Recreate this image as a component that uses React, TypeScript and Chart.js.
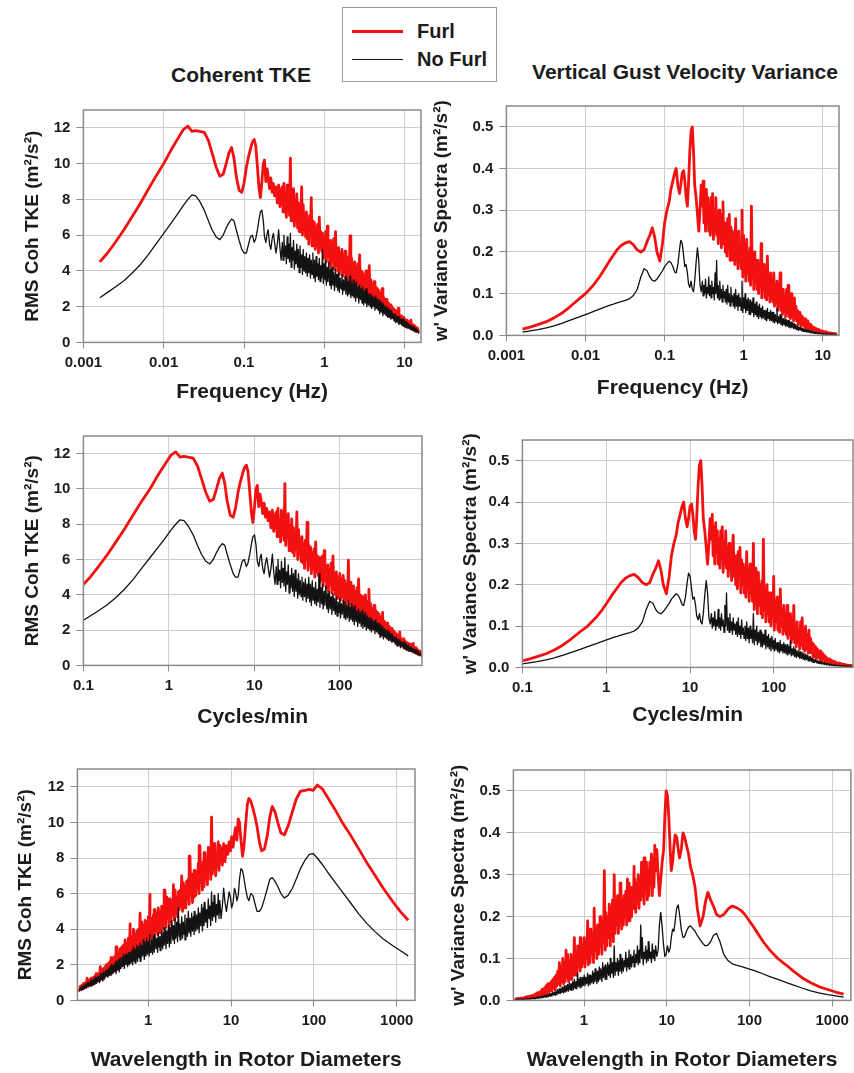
import React, { useEffect, useRef } from "react";
import { Chart, registerables } from "chart.js";

Chart.register(...registerables);

// ---------- DATA ----------
// Frequency grid of the spectra (Hz)
const FREQ_HZ = [
  0.0016, 0.002, 0.0025, 0.0032, 0.004, 0.005, 0.0063, 0.008, 0.01, 0.0125,
  0.015, 0.0175, 0.02, 0.0225, 0.025, 0.028, 0.032, 0.036, 0.04, 0.045,
  0.05, 0.055, 0.06, 0.065, 0.07, 0.075, 0.08, 0.087, 0.094, 0.1,
  0.107, 0.114, 0.12, 0.127, 0.134, 0.14, 0.147, 0.154, 0.16, 0.167,
  0.174, 0.18, 0.187, 0.194, 0.2, 0.208, 0.216, 0.224, 0.232, 0.24,
  0.25, 0.26, 0.27, 0.28, 0.29,
  0.3, 0.307, 0.314, 0.321, 0.329, 0.337, 0.345, 0.353, 0.361, 0.369,
  0.378, 0.387, 0.395, 0.404, 0.414, 0.424, 0.434, 0.444, 0.454, 0.465,
  0.476, 0.487, 0.498, 0.51, 0.522, 0.534, 0.546, 0.559, 0.572, 0.585,
  0.599, 0.613, 0.627, 0.642, 0.657, 0.672, 0.688, 0.704, 0.72, 0.737,
  0.754, 0.772, 0.79, 0.808, 0.827, 0.846, 0.866, 0.886, 0.907, 0.928,
  0.95, 0.972, 0.995, 1.02, 1.04, 1.06, 1.09, 1.11, 1.14, 1.17,
  1.2, 1.22, 1.25, 1.28, 1.31, 1.34, 1.38, 1.41, 1.44, 1.47,
  1.51, 1.54, 1.58, 1.62, 1.66, 1.69, 1.73, 1.77, 1.82, 1.86,
  1.9, 1.95, 1.99, 2.04, 2.09, 2.14, 2.19, 2.24, 2.29, 2.34,
  2.4, 2.45, 2.51, 2.57, 2.63, 2.69, 2.75, 2.82, 2.88, 2.95,
  3.02, 3.09, 3.16, 3.24, 3.31, 3.39, 3.47, 3.55, 3.63, 3.72,
  3.8, 3.89, 3.98, 4.07, 4.17, 4.27, 4.37, 4.47, 4.57, 4.68,
  4.79, 4.9, 5.01, 5.13, 5.25, 5.37, 5.5, 5.62, 5.75, 5.89,
  6.03, 6.17, 6.31, 6.46, 6.61, 6.76, 6.92, 7.08, 7.24, 7.41,
  7.59, 7.76, 7.94, 8.13, 8.32, 8.51, 8.71, 8.91, 9.12, 9.33,
  9.55, 9.77, 10.0, 10.2, 10.5, 10.7, 11.0, 11.2, 11.5, 11.7,
  12.0, 12.3, 12.6, 12.9, 13.2, 13.5, 13.8, 14.1, 14.5, 14.8,
  15.2,
];

// RMS coherent TKE (m²/s²), Furl
const TKE_FURL = [
  4.5, 5.0, 5.6, 6.3, 7.0, 7.7, 8.5, 9.3, 10.0, 10.8,
  11.4, 11.9, 12.1, 11.8, 11.85, 11.8, 11.75, 11.3, 10.6, 9.8,
  9.3, 9.4, 10.0, 10.6, 10.9, 10.3, 9.3, 8.5, 8.4, 8.9,
  9.8, 10.4, 10.8, 11.2, 11.35, 11.0, 9.8, 8.6, 8.1, 9.0,
  10.0, 10.2, 9.0, 9.7, 9.3, 8.6, 9.2, 8.4, 8.9, 8.2,
  8.7, 7.8, 8.8, 7.6, 8.5,
  8.7, 7.3, 8.9, 7.6, 8.2, 7.0, 8.8, 7.4, 8.5, 7.1,
  10.3, 6.8, 8.4, 7.3, 8.6, 6.5, 7.9, 6.9, 8.3, 6.4,
  7.8, 6.2, 7.5, 6.6, 8.7, 6.0, 7.7, 6.3, 7.2, 5.9,
  7.3, 5.8, 6.9, 5.5, 7.1, 6.0, 8.1, 5.4, 6.8, 5.7,
  6.7, 5.2, 6.4, 5.5, 6.6, 5.0, 7.0, 5.3, 6.2, 5.1,
  6.1, 4.7, 5.8, 4.9, 6.2, 4.5, 6.5, 4.8, 5.6, 4.4,
  5.7, 4.2, 5.4, 4.6, 5.8, 4.1, 6.2, 4.3, 5.2, 4.0,
  5.3, 3.8, 5.0, 4.1, 5.2, 3.7, 4.9, 3.9, 5.1, 3.6,
  4.8, 3.4, 4.6, 3.7, 5.96, 3.3, 4.7, 3.5, 4.4, 3.2,
  4.5, 3.0, 4.2, 3.3, 4.4, 2.9, 4.9, 3.1, 4.0, 2.8,
  3.9, 2.6, 3.7, 2.9, 4.0, 2.5, 3.6, 2.7, 4.3, 2.4,
  3.5, 2.2, 3.2, 2.5, 3.4, 2.1, 3.1, 2.3, 3.0, 2.0,
  2.9, 1.8, 2.7, 2.0, 3.0, 1.7, 2.5, 1.9, 2.4, 1.6,
  2.4, 1.5, 2.2, 1.6, 2.1, 1.4, 2.0, 1.5, 1.9, 1.3,
  1.8, 1.2, 1.7, 1.3, 1.9, 1.1, 1.5, 1.2, 1.5, 1.0,
  1.4, 0.95, 1.3, 0.9, 1.25, 0.85, 1.2, 0.9, 1.1, 0.8,
  1.25, 0.75, 1.0, 0.7, 0.95, 0.65, 0.85, 0.6, 0.8, 0.6,
  0.55,
];

// RMS coherent TKE (m²/s²), No Furl
const TKE_NO_FURL = [
  2.5, 2.8, 3.1, 3.45, 3.85, 4.3, 4.85, 5.5, 6.1, 6.7,
  7.2, 7.65, 8.0, 8.25, 8.2, 7.9, 7.4, 6.8, 6.3, 5.9,
  5.75, 6.0, 6.4, 6.7, 6.9, 6.8, 6.3, 5.7, 5.2, 5.0,
  5.0, 5.5, 5.9, 6.0, 5.6, 5.8, 6.3, 6.9, 7.3, 7.4,
  6.8, 5.9, 5.6, 6.1, 6.3, 5.5, 5.2, 5.8, 6.1, 5.6,
  5.0, 5.5, 6.3, 5.3, 4.6,
  5.6, 4.6, 6.0, 4.8, 5.4, 4.4, 5.9, 4.7, 5.5, 4.5,
  6.1, 4.2, 5.3, 4.6, 5.7, 4.1, 5.1, 4.4, 5.5, 4.2,
  5.2, 3.9, 5.4, 4.2, 4.9, 3.8, 5.2, 4.0, 4.8, 3.9,
  5.0, 3.7, 4.7, 3.9, 4.9, 3.6, 4.6, 3.8, 5.0, 3.6,
  4.6, 3.4, 4.8, 3.7, 4.4, 3.5, 4.7, 3.4, 4.3, 3.6,
  5.2, 3.3, 4.4, 3.5, 4.6, 3.2, 4.2, 3.4, 4.5, 3.2,
  4.1, 3.0, 4.2, 3.2, 3.9, 2.9, 4.1, 3.1, 3.8, 2.9,
  3.9, 2.8, 3.6, 3.0, 3.8, 2.7, 3.5, 2.9, 3.7, 2.7,
  3.6, 2.6, 3.4, 2.7, 3.7, 2.5, 3.3, 2.6, 3.5, 2.5,
  3.3, 2.3, 3.4, 2.5, 3.1, 2.2, 3.2, 2.4, 3.0, 2.2,
  3.1, 2.1, 2.9, 2.2, 3.0, 2.0, 2.8, 2.1, 2.7, 2.0,
  2.7, 1.9, 2.6, 2.0, 2.5, 1.8, 2.6, 1.9, 2.4, 1.8,
  2.4, 1.6, 2.3, 1.7, 2.2, 1.5, 2.1, 1.6, 2.0, 1.5,
  2.0, 1.4, 1.9, 1.4, 1.8, 1.3, 1.7, 1.35, 1.6, 1.2,
  1.6, 1.1, 1.5, 1.15, 1.45, 1.0, 1.35, 1.05, 1.3, 0.95,
  1.3, 0.9, 1.2, 0.85, 1.15, 0.8, 1.05, 0.8, 1.0, 0.75,
  0.95, 0.7, 0.9, 0.65, 0.85, 0.6, 0.8, 0.6, 0.7, 0.55,
  0.5,
];

// w' variance spectra (m²/s²), Furl
const WVAR_FURL = [
  0.015, 0.02, 0.026, 0.033, 0.042, 0.053, 0.068, 0.085, 0.1, 0.12,
  0.14, 0.16, 0.178, 0.192, 0.205, 0.215, 0.222, 0.225, 0.218, 0.205,
  0.2, 0.205, 0.225, 0.24, 0.258, 0.235, 0.2, 0.178, 0.22, 0.27,
  0.3, 0.32, 0.35, 0.37, 0.39, 0.4, 0.36, 0.34, 0.36, 0.39,
  0.395, 0.37, 0.33, 0.31, 0.36, 0.44, 0.49, 0.5, 0.44, 0.36,
  0.33, 0.29, 0.25, 0.3, 0.36,
  0.31, 0.37, 0.27, 0.34, 0.25, 0.35, 0.28, 0.33, 0.25, 0.31,
  0.24, 0.33, 0.27, 0.34, 0.23, 0.3, 0.25, 0.33, 0.24, 0.29,
  0.22, 0.3, 0.24, 0.28, 0.21, 0.29, 0.32, 0.22, 0.27, 0.2,
  0.27, 0.19, 0.28, 0.22, 0.29, 0.18, 0.26, 0.2, 0.25, 0.18,
  0.24, 0.17, 0.28, 0.19, 0.23, 0.16, 0.25, 0.18, 0.22, 0.16,
  0.3, 0.14, 0.24, 0.16, 0.22, 0.13, 0.23, 0.15, 0.2, 0.13,
  0.21, 0.12, 0.31, 0.14, 0.19, 0.11, 0.2, 0.13, 0.18, 0.11,
  0.18, 0.1, 0.17, 0.12, 0.22, 0.09, 0.16, 0.11, 0.17, 0.09,
  0.15, 0.085, 0.19, 0.1, 0.14, 0.08, 0.15, 0.09, 0.13, 0.08,
  0.15, 0.07, 0.12, 0.08, 0.13, 0.06, 0.11, 0.07, 0.15, 0.06,
  0.1, 0.05, 0.11, 0.06, 0.09, 0.045, 0.11, 0.055, 0.12, 0.045,
  0.09, 0.04, 0.1, 0.045, 0.08, 0.035, 0.09, 0.04, 0.07, 0.035,
  0.06, 0.025, 0.055, 0.03, 0.05, 0.022, 0.045, 0.025, 0.04, 0.02,
  0.04, 0.016, 0.035, 0.018, 0.03, 0.014, 0.026, 0.015, 0.022, 0.012,
  0.02, 0.01, 0.018, 0.011, 0.016, 0.009, 0.014, 0.009, 0.012, 0.008,
  0.011, 0.007, 0.01, 0.006, 0.009, 0.006, 0.008, 0.005, 0.007, 0.005,
  0.006, 0.004, 0.006, 0.004, 0.005, 0.003, 0.005, 0.003, 0.004, 0.003,
  0.003,
];

// w' variance spectra (m²/s²), No Furl
const WVAR_NO_FURL = [
  0.008, 0.011, 0.014, 0.018, 0.023, 0.029, 0.036, 0.043, 0.05, 0.057,
  0.063, 0.068, 0.072, 0.075, 0.078, 0.081, 0.084, 0.088, 0.095, 0.11,
  0.14, 0.16, 0.155, 0.14, 0.132, 0.13, 0.135, 0.145, 0.155, 0.165,
  0.172, 0.178, 0.175, 0.165, 0.152, 0.15, 0.17, 0.205, 0.228, 0.22,
  0.19, 0.165, 0.17, 0.15, 0.125, 0.115, 0.13, 0.11, 0.105, 0.13,
  0.175, 0.21, 0.18, 0.12, 0.105,
  0.13, 0.095, 0.12, 0.1, 0.135, 0.09, 0.115, 0.1, 0.14, 0.095,
  0.12, 0.09, 0.13, 0.1, 0.115, 0.085, 0.15, 0.1, 0.18, 0.09,
  0.12, 0.085, 0.13, 0.09, 0.11, 0.08, 0.12, 0.09, 0.105, 0.08,
  0.11, 0.075, 0.12, 0.08, 0.1, 0.07, 0.115, 0.08, 0.095, 0.07,
  0.1, 0.065, 0.11, 0.07, 0.095, 0.06, 0.1, 0.07, 0.09, 0.06,
  0.13, 0.055, 0.09, 0.065, 0.1, 0.055, 0.085, 0.06, 0.09, 0.05,
  0.085, 0.05, 0.08, 0.055, 0.09, 0.045, 0.075, 0.05, 0.08, 0.045,
  0.07, 0.04, 0.075, 0.045, 0.065, 0.04, 0.07, 0.042, 0.06, 0.038,
  0.06, 0.035, 0.065, 0.04, 0.055, 0.035, 0.06, 0.036, 0.055, 0.032,
  0.055, 0.03, 0.05, 0.033, 0.065, 0.028, 0.045, 0.03, 0.05, 0.026,
  0.045, 0.024, 0.04, 0.026, 0.042, 0.022, 0.038, 0.022, 0.036, 0.02,
  0.035, 0.018, 0.032, 0.019, 0.03, 0.016, 0.028, 0.016, 0.026, 0.014,
  0.022, 0.012, 0.02, 0.013, 0.019, 0.011, 0.017, 0.01, 0.016, 0.009,
  0.014, 0.008, 0.013, 0.008, 0.012, 0.007, 0.011, 0.006, 0.01, 0.006,
  0.008, 0.005, 0.008, 0.005, 0.007, 0.004, 0.006, 0.004, 0.006, 0.004,
  0.005, 0.003, 0.005, 0.003, 0.004, 0.003, 0.004, 0.003, 0.004, 0.003,
  0.003, 0.002, 0.003, 0.002, 0.003, 0.002, 0.003, 0.002, 0.002, 0.002,
  0.002,
];

// Unit conversions used by the middle and bottom rows
const SECONDS_PER_MINUTE = 60;
const ROTOR_DIAMETERS_PER_SECOND = 2.2; // wavelength (rotor diameters) = this / f

// Tick labels
const FREQ_TICKS = [0.001, 0.01, 0.1, 1, 10];
const CPM_TICKS = [0.1, 1, 10, 100];
const WAVELENGTH_TICKS = [1, 10, 100, 1000];
const TKE_TICKS = [0, 2, 4, 6, 8, 10, 12];
const WVAR_TICKS = [0, 0.1, 0.2, 0.3, 0.4, 0.5];

const SERIES_NAMES = ["Furl", "No Furl"];
const TKE_Y_TITLE = "RMS Coh TKE (m²/s²)";
const WVAR_Y_TITLE = "w' Variance Spectra (m²/s²)";

// ---------- STYLE ----------
const FONT = '"Liberation Sans", Arial, Helvetica, sans-serif';
const RED = "#f21010";
const BLACK = "#121212";
const TEXT = "#1c1c1c";
const GRID = "#cdcdcd";
const FRAME = "#8a8a8a";
const TICK_FONT = 15;
const X_TITLE_FONT = 21;
const Y_TITLE_FONT = 19;
const PAD_TOP = 12;

type Area = { l: number; t: number; r: number; b: number };
type PanelSpec = {
  area: Area;
  xMin: number;
  xMax: number;
  xTicks: number[];
  xTitle: string;
  toX: (f: number) => number;
  yMax: number;
  yTicks: number[];
  yFmt: (v: number) => string;
  yTitle: string;
  furl: number[];
  noFurl: number[];
  yTitleX: number;
  xTitleY: number;
  padRight: number;
};

const toHz = (f: number) => f;
const toCpm = (f: number) => f * SECONDS_PER_MINUTE;
const toWavelength = (f: number) => ROTOR_DIAMETERS_PER_SECOND / f;
const fmtInt = (v: number) => String(v);
const fmt1 = (v: number) => v.toFixed(1);

const PANELS: PanelSpec[] = [
  {
    area: { l: 83, t: 107, r: 421, b: 342 },
    xMin: 0.001, xMax: 16, xTicks: FREQ_TICKS, xTitle: "Frequency (Hz)", toX: toHz,
    yMax: 13, yTicks: TKE_TICKS, yFmt: fmtInt, yTitle: TKE_Y_TITLE,
    furl: TKE_FURL, noFurl: TKE_NO_FURL, yTitleX: 32, xTitleY: 392, padRight: 8,
  },
  {
    area: { l: 506, t: 103, r: 839, b: 335 },
    xMin: 0.001, xMax: 16, xTicks: FREQ_TICKS, xTitle: "Frequency (Hz)", toX: toHz,
    yMax: 0.55, yTicks: WVAR_TICKS, yFmt: fmt1, yTitle: WVAR_Y_TITLE,
    furl: WVAR_FURL, noFurl: WVAR_NO_FURL, yTitleX: 441, xTitleY: 388, padRight: 8,
  },
  {
    area: { l: 83, t: 433, r: 422, b: 665 },
    xMin: 0.1, xMax: 910, xTicks: CPM_TICKS, xTitle: "Cycles/min", toX: toCpm,
    yMax: 13, yTicks: TKE_TICKS, yFmt: fmtInt, yTitle: TKE_Y_TITLE,
    furl: TKE_FURL, noFurl: TKE_NO_FURL, yTitleX: 32, xTitleY: 717, padRight: 8,
  },
  {
    area: { l: 522, t: 437, r: 853, b: 667 },
    xMin: 0.1, xMax: 880, xTicks: CPM_TICKS, xTitle: "Cycles/min", toX: toCpm,
    yMax: 0.55, yTicks: WVAR_TICKS, yFmt: fmt1, yTitle: WVAR_Y_TITLE,
    furl: WVAR_FURL, noFurl: WVAR_NO_FURL, yTitleX: 470, xTitleY: 715, padRight: 1,
  },
  {
    area: { l: 77, t: 766, r: 415, b: 1000 },
    xMin: 0.14, xMax: 1660, xTicks: WAVELENGTH_TICKS, xTitle: "Wavelength in Rotor Diameters", toX: toWavelength,
    yMax: 13, yTicks: TKE_TICKS, yFmt: fmtInt, yTitle: TKE_Y_TITLE,
    furl: TKE_FURL, noFurl: TKE_NO_FURL, yTitleX: 25, xTitleY: 1060, padRight: 8,
  },
  {
    area: { l: 513, t: 767, r: 852, b: 1000 },
    xMin: 0.14, xMax: 1680, xTicks: WAVELENGTH_TICKS, xTitle: "Wavelength in Rotor Diameters", toX: toWavelength,
    yMax: 0.55, yTicks: WVAR_TICKS, yFmt: fmt1, yTitle: WVAR_Y_TITLE,
    furl: WVAR_FURL, noFurl: WVAR_NO_FURL, yTitleX: 458, xTitleY: 1060, padRight: 2,
  },
];

const framePlugin = {
  id: "frame",
  afterDatasetsDraw(chart: any) {
    const { ctx, chartArea } = chart;
    const { left, top, right, bottom } = chartArea;
    ctx.save();
    ctx.strokeStyle = FRAME;
    ctx.lineWidth = 1.5;
    ctx.strokeRect(left, top, right - left, bottom - top);
    ctx.restore();
  },
};

function Panel({ spec }: { spec: PanelSpec }) {
  const ref = useRef<HTMLCanvasElement | null>(null);
  const { area } = spec;
  const yLH = Y_TITLE_FONT * 1.2;
  const xLH = X_TITLE_FONT * 1.2;
  const yAxisW = area.l - spec.yTitleX + yLH / 2;
  const xAxisH = spec.xTitleY - area.b + xLH / 2;
  const left = area.l - yAxisW;
  const top = area.t - PAD_TOP;
  const width = Math.round(yAxisW + (area.r - area.l) + spec.padRight);
  const height = Math.round(PAD_TOP + (area.b - area.t) + xAxisH);

  useEffect(() => {
    if (!ref.current) return;
    const points = (vals: number[]) =>
      FREQ_HZ.map((f, i) => ({ x: spec.toX(f), y: vals[i] }));
    const tickFont = { family: FONT, size: TICK_FONT, weight: "bold" as const };
    const chart = new Chart(ref.current, {
      type: "line",
      data: {
        datasets: [
          {
            label: SERIES_NAMES[1],
            data: points(spec.noFurl),
            borderColor: BLACK,
            borderWidth: 1.3,
            pointRadius: 0,
            tension: 0,
            borderJoinStyle: "round",
          },
          {
            label: SERIES_NAMES[0],
            data: points(spec.furl),
            borderColor: RED,
            borderWidth: 2.8,
            pointRadius: 0,
            tension: 0,
            borderJoinStyle: "round",
          },
        ],
      },
      options: {
        animation: false,
        responsive: false,
        devicePixelRatio: 1,
        events: [],
        layout: { padding: { top: PAD_TOP, right: spec.padRight, left: 0, bottom: 0 } },
        plugins: { legend: { display: false }, tooltip: { enabled: false } },
        scales: {
          x: {
            type: "logarithmic",
            min: spec.xMin,
            max: spec.xMax,
            afterBuildTicks: (s: any) => {
              s.ticks = spec.xTicks.map((v) => ({ value: v }));
            },
            afterFit: (s: any) => {
              s.height = xAxisH;
            },
            ticks: {
              autoSkip: false,
              maxRotation: 0,
              padding: 5,
              color: TEXT,
              font: tickFont,
              callback: (v: any) => String(v),
            },
            grid: { color: GRID, tickColor: FRAME, tickLength: 6, lineWidth: 1 },
            border: { display: false },
            title: {
              display: true,
              text: spec.xTitle,
              color: TEXT,
              padding: 0,
              font: { family: FONT, size: X_TITLE_FONT, weight: "bold" },
            },
          },
          y: {
            type: "linear",
            min: 0,
            max: spec.yMax,
            afterBuildTicks: (s: any) => {
              s.ticks = spec.yTicks.map((v) => ({ value: v }));
            },
            afterFit: (s: any) => {
              s.width = yAxisW;
            },
            ticks: {
              padding: 6,
              color: TEXT,
              font: tickFont,
              callback: (v: any) => spec.yFmt(Number(v)),
            },
            grid: { color: GRID, tickColor: FRAME, tickLength: 7, lineWidth: 1 },
            border: { display: false },
            title: {
              display: true,
              text: spec.yTitle,
              color: TEXT,
              padding: 0,
              font: { family: FONT, size: Y_TITLE_FONT, weight: "bold" },
            },
          },
        },
      },
      plugins: [framePlugin],
    } as any);
    return () => chart.destroy();
  }, [spec]);

  return (
    <canvas
      ref={ref}
      width={width}
      height={height}
      style={{ position: "absolute", left, top, width, height }}
    />
  );
}

export default function App() {
  useEffect(() => {
    document.body.style.margin = "0";
  }, []);
  const titleStyle: React.CSSProperties = {
    position: "absolute",
    fontFamily: FONT,
    fontWeight: "bold",
    fontSize: 21,
    color: TEXT,
    whiteSpace: "nowrap",
    transform: "translate(-50%, -50%)",
  };
  const legendText: React.CSSProperties = {
    position: "absolute",
    left: 417,
    fontFamily: FONT,
    fontWeight: "bold",
    fontSize: 20,
    color: TEXT,
    whiteSpace: "nowrap",
    transform: "translateY(-50%)",
  };
  return (
    <div
      style={{
        position: "relative",
        width: 854,
        height: 1073,
        overflow: "hidden",
        background: "#fff",
      }}
    >
      {PANELS.map((p, i) => (
        <Panel key={i} spec={p} />
      ))}
      <div style={{ ...titleStyle, left: 241, top: 75 }}>Coherent TKE</div>
      <div style={{ ...titleStyle, left: 685, top: 72 }}>Vertical Gust Velocity Variance</div>
      <div
        style={{
          position: "absolute",
          left: 342,
          top: 7,
          width: 155,
          height: 75,
          border: "1.5px solid #9a9a9a",
          boxSizing: "border-box",
        }}
      />
      <div style={{ position: "absolute", left: 352, top: 29.5, width: 51, height: 3, background: RED }} />
      <div style={{ position: "absolute", left: 352, top: 58.5, width: 51, height: 1.5, background: BLACK }} />
      <div style={{ ...legendText, top: 31 }}>{SERIES_NAMES[0]}</div>
      <div style={{ ...legendText, top: 59 }}>{SERIES_NAMES[1]}</div>
    </div>
  );
}
